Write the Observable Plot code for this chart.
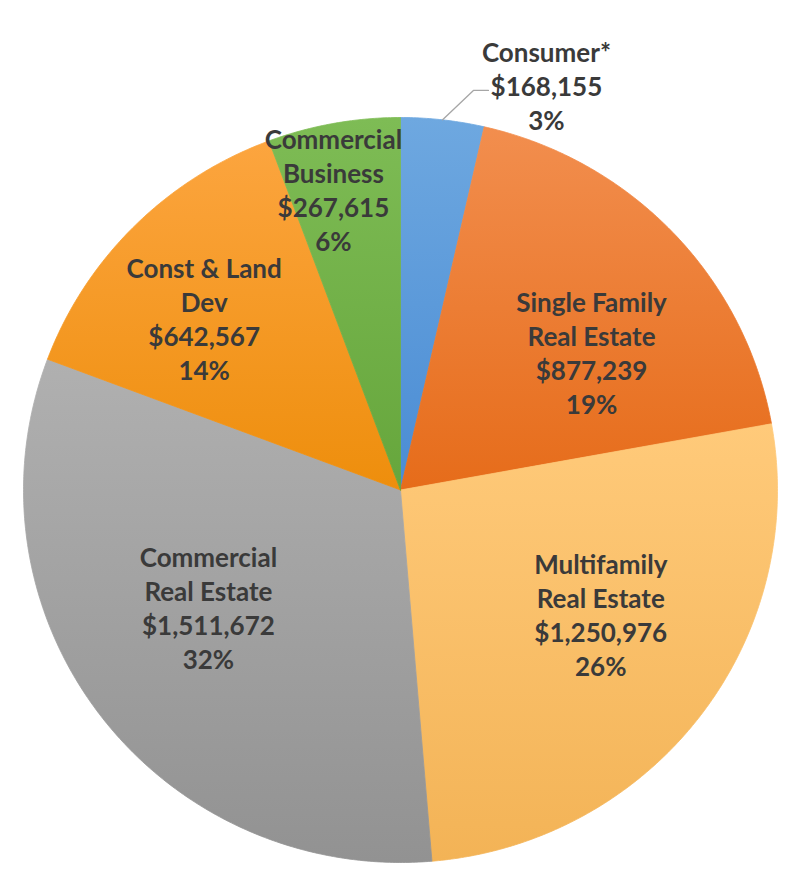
<!DOCTYPE html>
<html><head><meta charset="utf-8">
<script src="https://cdn.jsdelivr.net/npm/d3@7"></script>
<script src="https://cdn.jsdelivr.net/npm/@observablehq/plot@0.6"></script>
<style>body{margin:0;background:#fff;}</style>
</head><body><div id="chart"></div>
<script>
// ---- data ----
const categories = ["Consumer*", "Single Family Real Estate", "Multifamily Real Estate", "Commercial Real Estate", "Const & Land Dev", "Commercial Business"];
const labelNames = ["Consumer*", "Single Family\nReal Estate", "Multifamily\nReal Estate", "Commercial\nReal Estate", "Const & Land\nDev", "Commercial\nBusiness"];
const amounts = [168155, 877239, 1250976, 1511672, 642567, 267615];
const percents = [3, 19, 26, 32, 14, 6];

// ---- styles / layout ----
const gradientStops = [
  ["#6EA8E0", "#4A8CD4"],
  ["#F28E4E", "#E66C1A"],
  ["#FFCA7A", "#F3B356"],
  ["#B0B0B0", "#929292"],
  ["#FCA53F", "#EE8E0C"],
  ["#7EBC55", "#66A63C"]
];
// label placement: radius fraction and angular nudge (degrees) from the slice mid-angle
const labelLayout = [
  {r: 1.153, dAngle: 13.2},
  {r: 0.628, dAngle: 7.5},
  {r: 0.627, dAngle: -5.4},
  {r: 0.599, dAngle: 5.4},
  {r: 0.696, dAngle: -3.5},
  {r: 0.828, dAngle: -2.2}
];
const fontSize = 26;
const lineGap = 34;

const W = 806, H = 882;
const mL = 23, mR = 29, mT = 117, mB = 20;
const pxX = 2 / (W - mL - mR); // data units per pixel
const pxY = 2 / (H - mT - mB);

const arcs = d3.pie().sort(null).value(d => d)(amounts);

const slicePts = [];
arcs.forEach((a, i) => {
  const cat = categories[i];
  slicePts.push({x: 0, y: 0, cat});
  const n = Math.max(2, Math.ceil((a.endAngle - a.startAngle) / (Math.PI / 360)));
  for (let k = 0; k <= n; k++) {
    const t = a.startAngle + (a.endAngle - a.startAngle) * k / n;
    slicePts.push({x: Math.sin(t), y: Math.cos(t), cat});
  }
  slicePts.push({x: 0, y: 0, cat});
});

const fmt = d3.format(",");
const labels = arcs.map((a, i) => {
  const mid = (a.startAngle + a.endAngle) / 2 + labelLayout[i].dAngle * Math.PI / 180;
  const r = labelLayout[i].r;
  return {
    x: r * Math.sin(mid),
    y: r * Math.cos(mid),
    text: `${labelNames[i]}\n$${fmt(amounts[i])}\n${percents[i]}%`
  };
});

// leader line for the outside (Consumer) label
const leaderPts = [];
{
  const a = arcs[0];
  const mid = (a.startAngle + a.endAngle) / 2;
  const lab = labels[0];
  const endX = lab.x - 58 * pxX, endY = lab.y - 5 * pxY;
  leaderPts.push({x: Math.sin(mid), y: Math.cos(mid)});
  leaderPts.push({x: endX - 15 * pxX, y: endY});
  leaderPts.push({x: endX, y: endY});
}

const chart = Plot.plot({
  width: W, height: H,
  marginLeft: mL, marginRight: mR, marginTop: mT, marginBottom: mB,
  x: {domain: [-1, 1], axis: null},
  y: {domain: [-1, 1], axis: null},
  color: {domain: categories, range: categories.map((c, i) => `url(#grad${i})`)},
  style: {background: "white", fontFamily: "Lato, 'Open Sans', sans-serif", overflow: "visible"},
  marks: [
    Plot.line(slicePts, {x: "x", y: "y", z: "cat", fill: "cat", stroke: "cat", strokeWidth: 0.8, curve: "linear"}),
    Plot.line(leaderPts, {x: "x", y: "y", stroke: "#A6A6A6", strokeWidth: 1.3}),
    Plot.text(labels, {x: "x", y: "y", text: "text", fontSize, fontWeight: "bold", fill: "#3A3A3A", lineHeight: lineGap / fontSize})
  ]
});

const defs = d3.select(chart).insert("defs", ":first-child");
gradientStops.forEach((s, i) => {
  const g = defs.append("linearGradient").attr("id", `grad${i}`)
    .attr("x1", 0).attr("y1", 0).attr("x2", 0).attr("y2", 1);
  g.append("stop").attr("offset", "0%").attr("stop-color", s[0]);
  g.append("stop").attr("offset", "100%").attr("stop-color", s[1]);
});

document.getElementById("chart").appendChild(chart);
</script>
</body></html>
